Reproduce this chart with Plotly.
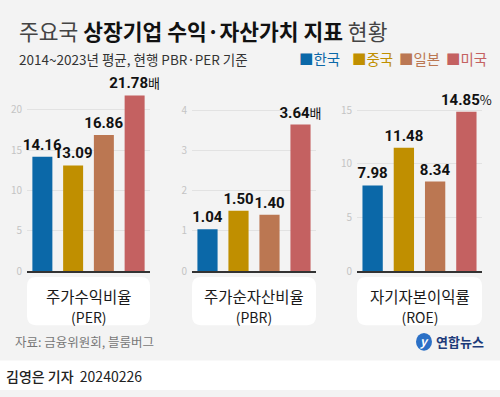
import plotly.graph_objects as go

W, H = 500, 397
FONT = "Noto Sans CJK KR"
NUM_FONT = "Liberation Sans Narrow, Roboto, Noto Sans CJK KR"

categories = ["한국", "중국", "일본", "미국"]
colors = ["#0b68a8", "#c08f00", "#bb7752", "#c46161"]
per = [14.16, 13.09, 16.86, 21.78]
pbr = [1.04, 1.50, 1.40, 3.64]
roe = [7.98, 11.48, 8.34, 14.85]
series = [per, pbr, roe]
units = ["배", "배", "%"]
panel_names = ["주가수익비율", "주가순자산비율", "자기자본이익률"]
panel_abbr = ["(PER)", "(PBR)", "(ROE)"]
tick_vals = [[0, 5, 10, 15, 20], [0, 1, 2, 3, 4], [0, 5, 10, 15]]
y_max = [23.86, 4.78, 17.93]

title_parts = ["주요국", "상장기업 수익·자산가치 지표", "현황"]
subtitle = "2014~2023년 평균, 현행 PBR·PER 기준"
source = "자료: 금융위원회, 블룸버그"
byline = "김영은 기자"
date = "20240226"


def px(x):
    return x / W


def py(y):
    return 1 - y / H


x_domains = [(27, 150), (192, 316), (357, 482)]
y_dom = [py(276), py(80)]

fig = go.Figure()
for i, vals in enumerate(series):
    n = "" if i == 0 else str(i + 1)
    tmpl = ["<b>%{y:.2f}</b>"] * (len(vals) - 1) + [
        "<b>%{y:.2f}</b><span style='font-family:Noto Sans CJK KR;font-size:13px'>"
        + units[i] + "</span>"]
    fig.add_trace(go.Bar(
        x=categories, y=vals, marker=dict(color=colors, line=dict(width=0)),
        texttemplate=tmpl, textposition="outside", cliponaxis=False,
        constraintext="none",
        textfont=dict(family=NUM_FONT, size=15, color="#111"),
        xaxis="x" + n, yaxis="y" + n, showlegend=False, hoverinfo="skip",
    ))
    d = x_domains[i]
    fig.layout["xaxis" + n] = dict(
        domain=[px(d[0]), px(d[1])], showticklabels=False, ticks="",
        showline=True, linecolor="#333", linewidth=1.5, showgrid=False,
        anchor="y" + n, fixedrange=True,
    )
    fig.layout["yaxis" + n] = dict(
        domain=y_dom, range=[0, y_max[i]], tickvals=tick_vals[i],
        showgrid=True, gridcolor="#e2e2e2", gridwidth=1, zeroline=False,
        ticks="", ticklabelstandoff=4, showline=False,
        tickfont=dict(family=FONT, size=10, color="#c4c4c4"),
        anchor="x" + n, fixedrange=True,
    )

shapes = []
annotations = []


def rounded_rect(x0, y0, x1, y1, r):
    rx, ry = r / W, r / H
    X0, X1 = px(x0), px(x1)
    Y0, Y1 = py(y1), py(y0)
    return (f"M {X0+rx},{Y0} L {X1-rx},{Y0} Q {X1},{Y0} {X1},{Y0+ry} "
            f"L {X1},{Y1-ry} Q {X1},{Y1} {X1-rx},{Y1} L {X0+rx},{Y1} "
            f"Q {X0},{Y1} {X0},{Y1-ry} L {X0},{Y0+ry} Q {X0},{Y0} {X0+rx},{Y0} Z")


# bottom white strip
shapes.append(dict(type="rect", xref="paper", yref="paper", x0=0, x1=1,
                   y0=0, y1=py(367), fillcolor="white", line=dict(width=0),
                   layer="below"))

for i, d in enumerate(x_domains):
    shapes.append(dict(type="path", xref="paper", yref="paper",
                       path=rounded_rect(d[0], 282, d[1], 331, 9),
                       fillcolor="white", line=dict(width=0), layer="below"))
    cx = px((d[0] + d[1]) / 2)
    annotations.append(dict(
        x=cx, y=py(311), xref="paper", yref="paper",
        text=f"{panel_names[i]}<br><span style='font-size:14px'>{panel_abbr[i]}</span>",
        showarrow=False, align="center",
        font=dict(family=FONT, size=15.5, color="#1a1a1a"),
        xanchor="center", yanchor="middle"))

# title and subtitle
annotations.append(dict(
    x=px(17), y=py(31), xref="paper", yref="paper", xanchor="left", yanchor="middle",
    text=(f"<span style='color:#444'>{title_parts[0]}</span> "
          f"<b>{title_parts[1]}</b> "
          f"<span style='color:#444'>{title_parts[2]}</span>"),
    showarrow=False, font=dict(family=FONT, size=21.5, color="#111")))
annotations.append(dict(
    x=px(17), y=py(60), xref="paper", yref="paper", xanchor="left", yanchor="middle",
    text=subtitle, showarrow=False, font=dict(family=FONT, size=13.5, color="#333")))

# legend
leg_x = [297, 350, 397, 444]
for i, c in enumerate(categories):
    annotations.append(dict(
        x=px(leg_x[i]), y=py(60), xref="paper", yref="paper", xanchor="left",
        yanchor="middle", text="■" + c, showarrow=False,
        font=dict(family=FONT, size=14.5, color=colors[i])))

# source
annotations.append(dict(
    x=px(13), y=py(348), xref="paper", yref="paper", xanchor="left", yanchor="middle",
    text=source, showarrow=False, font=dict(family=FONT, size=12.5, color="#777")))

# logo
shapes.append(dict(type="circle", xref="paper", yref="paper",
                   x0=px(416), x1=px(432), y0=py(357), y1=py(339),
                   fillcolor="#2b70c6", line=dict(width=0)))
annotations.append(dict(
    x=px(424), y=py(347), xref="paper", yref="paper", xanchor="center", yanchor="middle",
    text="<i><b>y</b></i>", showarrow=False, font=dict(family=FONT, size=12, color="white")))
annotations.append(dict(
    x=px(434), y=py(348), xref="paper", yref="paper", xanchor="left", yanchor="middle",
    text="<b>연합뉴스</b>", showarrow=False, font=dict(family=FONT, size=13, color="#1d3b7a")))

# byline
annotations.append(dict(
    x=px(4), y=py(383), xref="paper", yref="paper", xanchor="left", yanchor="middle",
    text=f"<span style='font-weight:500'>{byline}</span>  {date}", showarrow=False,
    font=dict(family=FONT, size=14, color="#222")))

fig.update_layout(
    width=W, height=H, margin=dict(l=0, r=0, t=0, b=0),
    paper_bgcolor="#f3f3f3", plot_bgcolor="rgba(0,0,0,0)",
    bargap=0.35, shapes=shapes, annotations=annotations,
    font=dict(family=FONT),
)

fig.write_html(
    "out.html", config={"displayModeBar": False},
    post_script="document.body.style.margin='0';document.body.style.overflow='hidden';",
)
